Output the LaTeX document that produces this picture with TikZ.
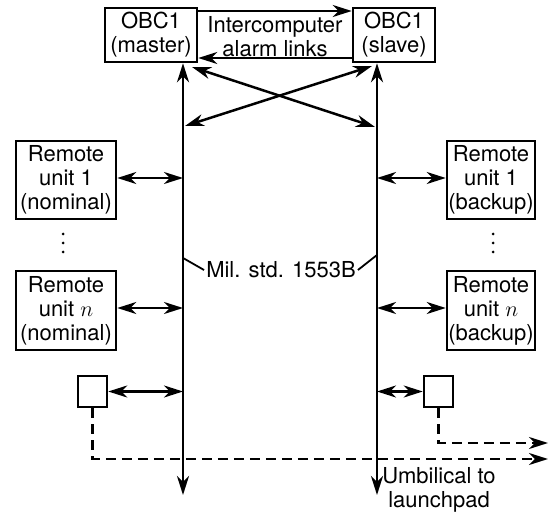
\RequirePackage{fix-cm}
\documentclass[tikz,border=0pt]{standalone}
\usepackage{fontspec}
\setmainfont{TeX Gyre Heros}
\usetikzlibrary{arrows.meta}
\tikzset{arrowtip/.tip={Stealth[length=19pt,width=12pt,inset=6pt]}}
\begin{document}
\begin{tikzpicture}[x=1pt,y=-1pt,
  box/.style={draw,line width=2.5pt,inner sep=0pt,align=center,font=\fontsize{22}{24}\selectfont},
  lbl/.style={inner sep=0pt,align=center,font=\fontsize{22}{24}\selectfont},
  conn/.style={line width=2.5pt,arrowtip-arrowtip},
  bus/.style={line width=2.6pt,arrowtip-arrowtip},
  oneway/.style={line width=2.5pt,-arrowtip},
  dashline/.style={line width=2.5pt,dash pattern=on 10pt off 6pt,-arrowtip},
  tick/.style={line width=1.8pt}]
\useasboundingbox (0,0) rectangle (549,513);
% OBC boxes
\node[box,minimum width=92pt,minimum height=54pt] (master) at (151,35) {OBC1\\(master)};
\node[box,minimum width=82pt,minimum height=54pt] (slave) at (394,35) {OBC1\\(slave)};
\node[lbl] (alarm) at (275,37) {Intercomputer\\alarm links};
\draw[oneway] (master.east |- 0,11) -- (slave.west |- 0,11);
\draw[oneway] (slave.west |- 0,58) -- (master.east |- 0,58);
% buses
\coordinate (lbus) at (183,495);
\coordinate (rbus) at (377,495);
\draw[bus] (master.south -| lbus) -- (lbus);
\draw[bus] (slave.south -| rbus) -- (rbus);
% cross links
\coordinate (mx) at (192,67);
\coordinate (sx) at (372,66);
\coordinate (lx) at (185,126);
\coordinate (rx) at (375,127);
\draw[conn] (mx) -- (rx);
\draw[conn] (sx) -- (lx);
% remote units
\node[box,minimum width=100pt,minimum height=78pt] (rn1) at (66,180) {Remote\\unit 1\\(nominal)};
\node[box,minimum width=100pt,minimum height=79pt] (rnn) at (66,310.5) {Remote\\unit $n$\\(nominal)};
\node[box,minimum width=88pt,minimum height=78pt] (rb1) at (491,180) {Remote\\unit 1\\(backup)};
\node[box,minimum width=88pt,minimum height=79pt] (rbn) at (491,310.5) {Remote\\unit $n$\\(backup)};
\draw[conn] (rn1.east |- 0,178) -- (lbus |- 0,178);
\draw[conn] (rnn.east |- 0,308) -- (lbus |- 0,308);
\draw[conn] (rbus |- 0,178) -- (rb1.west |- 0,178);
\draw[conn] (rbus |- 0,308) -- (rbn.west |- 0,308);
% dots
\foreach \y in {234,243,252} {\fill (63,\y) circle (1.5pt); \fill (493,\y) circle (1.5pt);}
% mil std label
\node[lbl] (mil) at (281,270) {Mil. std. 1553B};
\draw[tick] (lbus |- 0,258) -- ([xshift=-2pt]mil.west);
\draw[tick] ([xshift=2pt]mil.east) -- (rbus |- 0,255);
% small boxes
\node[box,minimum width=29pt,minimum height=31pt] (sl) at (92.5,391.5) {};
\node[box,minimum width=29pt,minimum height=31pt] (sr) at (438.5,391.5) {};
\draw[conn] (sl.east) -- (lbus |- sl.east);
\draw[conn] (rbus |- sr.west) -- (sr.west);
% umbilical
\coordinate (ul) at (548,459);
\coordinate (ur) at (548,443);
\draw[dashline] (sl.south) -- (sl.south |- ul) -- (ul);
\draw[dashline] (sr.south) -- (sr.south |- ur) -- (ur);
\node[lbl] (umb) at (439,490) {Umbilical to\\launchpad};
\end{tikzpicture}
\end{document}
